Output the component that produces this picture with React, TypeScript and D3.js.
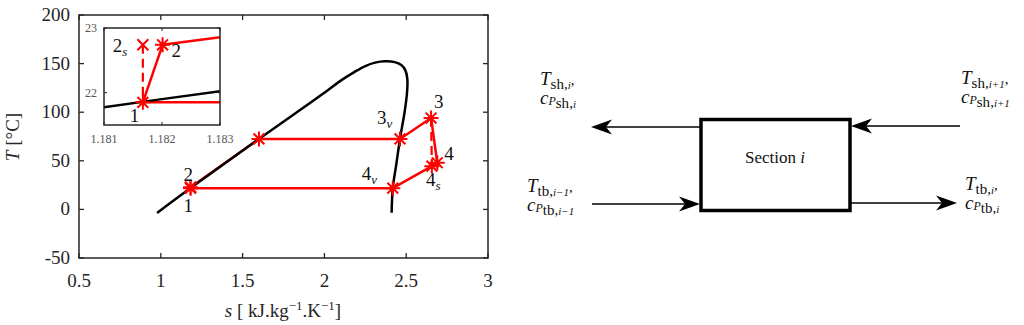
import * as d3 from 'd3';

// saturation dome of the working fluid (s in kJ/kg.K, T in °C)
const domeS = [0.977, 1.182, 1.6, 2.0, 2.1, 2.18, 2.25, 2.31, 2.37, 2.43, 2.47, 2.495, 2.507, 2.505, 2.49, 2.462, 2.44, 2.418, 2.411];
const domeT = [-3.7, 21.9, 72.5, 120, 132.5, 141, 147.5, 151, 152.3, 151.5, 148.5, 143, 134, 120, 100, 72.5, 47, 21.85, -3.4];

// state points of the cycle
const stateNames = ['1', '2', '2s', 'l', '3v', '3', '4', '4s', '4v'];
const stateS = [1.18167, 1.18201, 1.18167, 1.6, 2.462, 2.652, 2.69, 2.657, 2.418];
const stateT = [21.85, 22.74, 22.74, 72.5, 72.5, 94, 48, 44.5, 21.85];

// solid cycle path and dashed isentropic lines (by state name)
const cyclePath = ['1', '2', 'l', '3v', '3', '4', '4s', '4v', '1'];
const dashedPaths = [['3', '4s'], ['2s', '1']];
const starStates = ['1', '2', 'l', '3v', '3', '4', '4s', '4v'];
const crossStates = ['2s'];

const xTicks = [0.5, 1, 1.5, 2, 2.5, 3];
const yTicks = [-50, 0, 50, 100, 150, 200];
const insetXTicks = [1.181, 1.182, 1.183];
const insetYTicks = [22, 23];

const FONT = '"Liberation Serif", "Times New Roman", serif';
const RED = '#ff0000';

const x = d3.scaleLinear().domain([0.5, 3]).range([79, 488]);
const y = d3.scaleLinear().domain([-50, 200]).range([258, 15]);
const xi = d3.scaleLinear().domain([1.181, 1.183]).range([104, 220]);
const yi = d3.scaleLinear().domain([21.5, 23]).range([125, 28]);

const pt = (name: string): [number, number] => {
  const i = stateNames.indexOf(name);
  return [stateS[i], stateT[i]];
};

function Star({ cx, cy, r = 7.5 }: { cx: number; cy: number; r?: number }) {
  const d = r * 0.72;
  return (
    <path
      d={`M${cx - r},${cy}H${cx + r}M${cx},${cy - r}V${cy + r}M${cx - d},${cy - d}L${cx + d},${cy + d}M${cx - d},${cy + d}L${cx + d},${cy - d}`}
      stroke={RED}
      strokeWidth={2}
      fill="none"
    />
  );
}

function Cross({ cx, cy, r = 5.5 }: { cx: number; cy: number; r?: number }) {
  return (
    <path
      d={`M${cx - r},${cy - r}L${cx + r},${cy + r}M${cx - r},${cy + r}L${cx + r},${cy - r}`}
      stroke={RED}
      strokeWidth={2}
      fill="none"
    />
  );
}

function Cycle({ sx, sy, clip }: { sx: d3.ScaleLinear<number, number>; sy: d3.ScaleLinear<number, number>; clip?: string }) {
  const line = d3.line<[number, number]>().x((d) => sx(d[0])).y((d) => sy(d[1]));
  const dome = d3
    .line<number>()
    .x((_, i) => sx(domeS[i]))
    .y((d) => sy(d))
    .curve(d3.curveCatmullRom.alpha(0.5));
  return (
    <g clipPath={clip}>
      <path d={line(cyclePath.map(pt)) ?? ''} stroke={RED} strokeWidth={2.5} fill="none" strokeLinejoin="round" />
      {dashedPaths.map((p, i) => (
        <path key={i} d={line(p.map(pt)) ?? ''} stroke={RED} strokeWidth={2.2} strokeDasharray="9 5" fill="none" />
      ))}
      <path d={dome(domeT) ?? ''} stroke="#000" strokeWidth={2.5} fill="none" />
      {starStates.map((n) => {
        const [s, t] = pt(n);
        return <Star key={n} cx={sx(s)} cy={sy(t)} />;
      })}
      {crossStates.map((n) => {
        const [s, t] = pt(n);
        return <Cross key={n} cx={sx(s)} cy={sy(t)} />;
      })}
    </g>
  );
}

function StateLabel({ sx, sy, name, dx, dy, main, sub }: any) {
  const [s, t] = pt(name);
  return (
    <text x={sx(s) + dx} y={sy(t) + dy} fontFamily={FONT} fontSize={19} fill="#111">
      {main}
      {sub ? (
        <tspan fontStyle="italic" fontSize={13} dy={4}>
          {sub}
        </tspan>
      ) : null}
    </text>
  );
}

function Arrow({ x1, x2, yy }: { x1: number; x2: number; yy: number }) {
  const dir = x2 > x1 ? 1 : -1;
  const L = 21;
  const w = 7.5;
  const head = `M${x2},${yy}L${x2 - dir * L},${yy - w}L${x2 - dir * 15},${yy}L${x2 - dir * L},${yy + w}Z`;
  return (
    <g>
      <line x1={x1} x2={x2 - dir * 12} y1={yy} y2={yy} stroke="#000" strokeWidth={1.6} />
      <path d={head} fill="#000" />
    </g>
  );
}

function FlowLabel({ lx, ly, sub, idx }: { lx: number; ly: number; sub: string; idx: string }) {
  return (
    <g fontFamily={FONT} fill="#111">
      <text x={lx} y={ly} fontSize={19}>
        <tspan fontStyle="italic">T</tspan>
        <tspan fontSize={15} dy={4}>{sub},</tspan>
        <tspan fontSize={11} fontStyle="italic">{idx}</tspan>
        <tspan fontSize={15} dy={-4}>,</tspan>
      </text>
      <text x={lx} y={ly + 19} fontSize={19}>
        <tspan fontStyle="italic">c</tspan>
        <tspan fontSize={12} fontStyle="italic" dy={1}>P</tspan>
        <tspan fontSize={15} dy={3}>{sub},</tspan>
        <tspan fontSize={11} fontStyle="italic">{idx}</tspan>
      </text>
    </g>
  );
}

export default function App() {
  const [x0, x1] = x.range();
  const [y0, y1] = y.range();
  const [ix0, ix1] = xi.range();
  const [iy0, iy1] = yi.range();
  return (
    <svg width={1024} height={325} style={{ position: 'absolute', left: 0, top: 0, background: '#fff' }}>
      <defs>
        <clipPath id="main-clip">
          <rect x={x0} y={y1} width={x1 - x0} height={y0 - y1} />
        </clipPath>
        <clipPath id="inset-clip">
          <rect x={ix0} y={iy1} width={ix1 - ix0} height={iy0 - iy1} />
        </clipPath>
      </defs>

      {/* main T-s diagram */}
      <Cycle sx={x} sy={y} clip="url(#main-clip)" />
      <rect x={x0} y={y1} width={x1 - x0} height={y0 - y1} fill="none" stroke="#262626" strokeWidth={1.5} />
      {xTicks.map((t) => (
        <g key={t}>
          <line x1={x(t)} x2={x(t)} y1={y0} y2={y0 - 5} stroke="#262626" strokeWidth={1.3} />
          <line x1={x(t)} x2={x(t)} y1={y1} y2={y1 + 5} stroke="#262626" strokeWidth={1.3} />
          <text x={x(t)} y={287} textAnchor="middle" fontFamily={FONT} fontSize={19} fill="#262626">
            {t}
          </text>
        </g>
      ))}
      {yTicks.map((t) => (
        <g key={t}>
          <line x1={x0} x2={x0 + 5} y1={y(t)} y2={y(t)} stroke="#262626" strokeWidth={1.3} />
          <line x1={x1} x2={x1 - 5} y1={y(t)} y2={y(t)} stroke="#262626" strokeWidth={1.3} />
          <text x={70} y={y(t) + 6} textAnchor="end" fontFamily={FONT} fontSize={19} fill="#262626">
            {t}
          </text>
        </g>
      ))}
      <text transform="translate(19,137) rotate(-90)" textAnchor="middle" fontFamily={FONT} fontSize={19} fill="#262626">
        <tspan fontStyle="italic">T</tspan> [°C]
      </text>
      <text x={283} y={317} textAnchor="middle" fontFamily={FONT} fontSize={19} fill="#262626">
        <tspan fontStyle="italic">s</tspan> [ kJ.kg
        <tspan fontSize={13} dy={-7}>−1</tspan>
        <tspan dy={7}>.K</tspan>
        <tspan fontSize={13} dy={-7}>−1</tspan>
        <tspan dy={7}>]</tspan>
      </text>

      <StateLabel sx={x} sy={y} name="1" dx={-7} dy={-7} main="2" />
      <StateLabel sx={x} sy={y} name="1" dx={-7} dy={24} main="1" />
      <StateLabel sx={x} sy={y} name="3v" dx={-23} dy={-15} main="3" sub="v" />
      <StateLabel sx={x} sy={y} name="3" dx={3} dy={-10} main="3" />
      <StateLabel sx={x} sy={y} name="4" dx={7} dy={-3} main="4" />
      <StateLabel sx={x} sy={y} name="4s" dx={-6} dy={20} main="4" sub="s" />
      <StateLabel sx={x} sy={y} name="4v" dx={-31} dy={-8} main="4" sub="v" />

      {/* inset zoom around points 1, 2, 2s */}
      <rect x={ix0} y={iy1} width={ix1 - ix0} height={iy0 - iy1} fill="#fff" />
      <Cycle sx={xi} sy={yi} clip="url(#inset-clip)" />
      <rect x={ix0} y={iy1} width={ix1 - ix0} height={iy0 - iy1} fill="none" stroke="#262626" strokeWidth={1.5} />
      {insetXTicks.map((t) => (
        <g key={t}>
          <line x1={xi(t)} x2={xi(t)} y1={iy0} y2={iy0 - 3} stroke="#262626" />
          <line x1={xi(t)} x2={xi(t)} y1={iy1} y2={iy1 + 3} stroke="#262626" />
          <text x={xi(t)} y={143} textAnchor="middle" fontFamily={FONT} fontSize={12} fill="#555">
            {t.toFixed(3)}
          </text>
        </g>
      ))}
      {insetYTicks.map((t) => (
        <g key={t}>
          <line x1={ix0} x2={ix0 + 3} y1={yi(t)} y2={yi(t)} stroke="#262626" />
          <line x1={ix1} x2={ix1 - 3} y1={yi(t)} y2={yi(t)} stroke="#262626" />
          <text x={97} y={yi(t) + 4} textAnchor="end" fontFamily={FONT} fontSize={12} fill="#555">
            {t}
          </text>
        </g>
      ))}
      <StateLabel sx={xi} sy={yi} name="2s" dx={-30} dy={7} main="2" sub="s" />
      <StateLabel sx={xi} sy={yi} name="2" dx={9} dy={12} main="2" />
      <StateLabel sx={xi} sy={yi} name="1" dx={-13} dy={20} main="1" />

      {/* section schematic */}
      <rect x={701} y={119.5} width={149} height={91} fill="none" stroke="#000" strokeWidth={3.5} />
      <text x={775} y={163} textAnchor="middle" fontFamily={FONT} fontSize={17} fill="#111">
        Section <tspan fontStyle="italic">i</tspan>
      </text>
      <Arrow x1={701} x2={591} yy={127} />
      <Arrow x1={960} x2={851} yy={126} />
      <Arrow x1={592} x2={700} yy={204} />
      <Arrow x1={851} x2={957} yy={203} />
      <FlowLabel lx={540} ly={85} sub="sh" idx="i" />
      <FlowLabel lx={961} ly={84} sub="sh" idx="i+1" />
      <FlowLabel lx={527} ly={192} sub="tb" idx="i−1" />
      <FlowLabel lx={965} ly={190} sub="tb" idx="i" />
    </svg>
  );
}
